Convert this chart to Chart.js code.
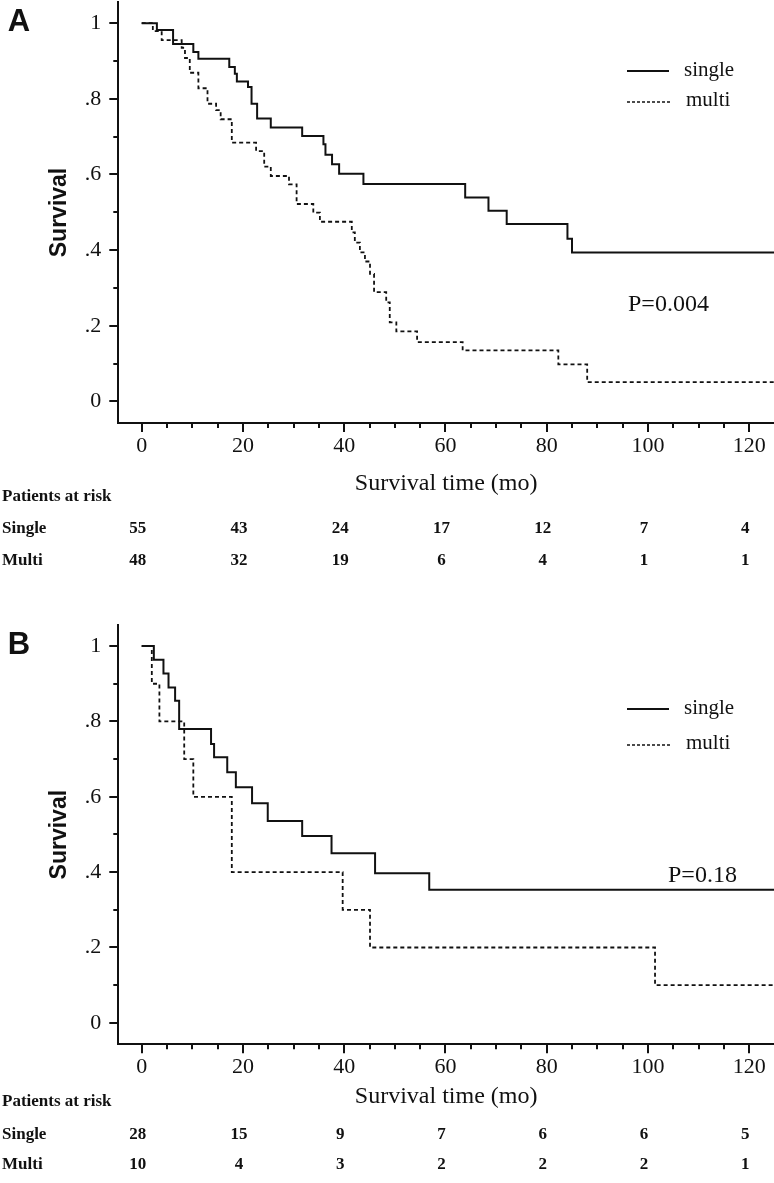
<!DOCTYPE html>
<html>
<head>
<meta charset="utf-8">
<script src="https://cdn.jsdelivr.net/npm/chart.js@4.4.1/dist/chart.umd.min.js"></script>
<style>
  html, body { margin: 0; padding: 0; background: #fff; }
  body { width: 774px; height: 1183px; position: relative; overflow: hidden;
         font-family: "Liberation Serif", "Times New Roman", serif; color: #111; }
  canvas { position: absolute; left: 0; }
  .t { position: absolute; white-space: nowrap; line-height: 1; }
  .c { transform: translate(-50%, -50%); }
  .l { transform: translateY(-50%); }
  .letter { font-family: "Liberation Sans", Arial, sans-serif; font-weight: bold; font-size: 31px; }
  .risk { font-weight: bold; font-size: 17px; }
  .leg { font-size: 21px; }
  .pv { font-size: 24px; }
  svg.sw { position: absolute; }
</style>
</head>
<body>
<canvas id="cA" width="774" height="510" style="top:0"></canvas>
<canvas id="cB" width="774" height="500" style="top:620px"></canvas>
<script>
// shared axis values
const riskTimes = [0, 20, 40, 60, 80, 100, 120];
const xTicks = [0, 5, 10, 15, 20, 25, 30, 35, 40, 45, 50, 55, 60, 65, 70, 75, 80, 85, 90, 95, 100, 105, 110, 115, 120];
const yTicks = [0, 0.1, 0.2, 0.3, 0.4, 0.5, 0.6, 0.7, 0.8, 0.9, 1];

// panel A
const aSingleTime = [0, 3.0, 6.2, 10.2, 11.2, 17.3, 18.4, 18.8, 21.0, 21.7, 22.8, 25.5, 31.7, 35.9, 36.3, 37.6, 39.0, 43.8, 63.9, 68.5, 72.1, 84.1, 85.0, 125];
const aSingleSurv = [1, 0.982, 0.945, 0.924, 0.906, 0.884, 0.866, 0.846, 0.831, 0.787, 0.748, 0.724, 0.702, 0.680, 0.652, 0.627, 0.602, 0.575, 0.539, 0.504, 0.469, 0.430, 0.394, 0.394];
const aMultiTime = [0, 2.2, 3.95, 7.9, 8.55, 9.5, 11.2, 13.0, 14.7, 15.6, 17.8, 22.6, 24.2, 25.5, 29.1, 30.6, 33.9, 35.2, 41.5, 42.1, 43.1, 44.1, 45.1, 45.9, 48.3, 49.0, 50.3, 54.4, 63.4, 82.3, 88.0, 125];
const aMultiSurv = [1, 0.979, 0.955, 0.935, 0.908, 0.869, 0.828, 0.787, 0.770, 0.746, 0.684, 0.662, 0.621, 0.596, 0.574, 0.522, 0.499, 0.475, 0.447, 0.420, 0.394, 0.370, 0.337, 0.289, 0.262, 0.209, 0.185, 0.157, 0.135, 0.098, 0.051, 0.051];
const aRiskSingle = [55, 43, 24, 17, 12, 7, 4];
const aRiskMulti = [48, 32, 19, 6, 4, 1, 1];

// panel B
const bSingleTime = [0, 2.4, 4.3, 5.3, 6.6, 7.4, 13.7, 14.3, 16.9, 18.6, 21.8, 24.9, 31.7, 37.5, 46.1, 56.8, 125];
const bSingleSurv = [1, 0.964, 0.927, 0.890, 0.855, 0.780, 0.740, 0.705, 0.665, 0.625, 0.583, 0.536, 0.496, 0.450, 0.397, 0.353, 0.353];
const bMultiTime = [0, 2.0, 3.5, 8.4, 10.2, 17.8, 39.7, 45.1, 101.4, 125];
const bMultiSurv = [1, 0.9, 0.8, 0.7, 0.6, 0.4, 0.3, 0.2, 0.1, 0.1];
const bRiskSingle = [28, 15, 9, 7, 6, 6, 5];
const bRiskMulti = [10, 4, 3, 2, 2, 2, 1];

const SERIF = '"Liberation Serif", "Times New Roman", serif';
const SANS_N = '"Liberation Sans Narrow", "Arial Narrow", "Liberation Sans", sans-serif';
const INK = '#111';

const pts = (t, s) => t.map((v, i) => ({ x: v, y: s[i] }));

// tick marks: long on labelled values, short in between
const tickMarks = {
  id: 'tickMarks',
  afterDraw(chart) {
    const { ctx, scales: { x, y } } = chart;
    ctx.save();
    ctx.strokeStyle = INK;
    ctx.lineWidth = 2;
    ctx.beginPath();
    xTicks.forEach(v => {
      const px = Math.round(x.getPixelForValue(v));
      const len = v % 20 === 0 ? 9 : 5;
      ctx.moveTo(px, x.top);
      ctx.lineTo(px, x.top + len);
    });
    yTicks.forEach(v => {
      const py = Math.round(y.getPixelForValue(v));
      const len = Math.round(v * 10) % 2 === 0 ? 9 : 5;
      ctx.moveTo(y.right - len, py);
      ctx.lineTo(y.right, py);
    });
    ctx.stroke();
    ctx.restore();
  }
};

function makePanel(id, o) {
  return new Chart(document.getElementById(id), {
    type: 'line',
    data: {
      datasets: [
        { data: pts(o.sTime, o.sSurv), borderColor: INK, borderWidth: 2, stepped: true, pointRadius: 0, fill: false },
        { data: pts(o.mTime, o.mSurv), borderColor: INK, borderWidth: 1.8, borderDash: [4, 3], stepped: true, pointRadius: 0, fill: false }
      ]
    },
    options: {
      responsive: false,
      animation: false,
      devicePixelRatio: 1,
      layout: { padding: { top: o.areaTop, left: 0, right: 0, bottom: 0 } },
      plugins: { legend: { display: false }, tooltip: { enabled: false } },
      scales: {
        x: {
          type: 'linear', min: -4.62, max: 124.9,
          afterBuildTicks: s => { s.ticks = xTicks.map(v => ({ value: v })); },
          ticks: { autoSkip: false, maxRotation: 0, padding: 10, color: INK,
                   font: { family: SERIF, size: 22 },
                   callback: v => (v % 20 === 0 ? String(v) : '') },
          grid: { display: false, drawTicks: false },
          border: { display: true, color: INK, width: 2 },
          title: { display: true, text: 'Survival time (mo)', color: INK,
                   font: { family: SERIF, size: 24 }, padding: { top: 0, bottom: o.titlePad } },
          afterFit: s => { s.height = o.xHeight; s.paddingLeft = 0; s.paddingRight = 0; }
        },
        y: {
          type: 'linear', min: -0.057, max: 1.056,
          afterBuildTicks: s => { s.ticks = yTicks.map(v => ({ value: v })); },
          ticks: { autoSkip: false, padding: 17, color: INK,
                   font: { family: SERIF, size: 22 },
                   callback: v => {
                     const k = Math.round(v * 10);
                     if (k % 2) return '';
                     return k === 10 ? '1' : k === 0 ? '0' : '.' + k;
                   } },
          grid: { display: false, drawTicks: false },
          border: { display: true, color: INK, width: 2 },
          title: { display: true, text: 'Survival', color: INK,
                   font: { family: SANS_N, size: 23, weight: 'bold' }, padding: { top: 46, bottom: 0 } },
          afterFit: s => { s.width = 118.3; s.paddingTop = 0; s.paddingBottom = 0; }
        }
      }
    },
    plugins: [tickMarks]
  });
}

function addText(cls, txt, left, top) {
  const d = document.createElement('div');
  d.className = 't ' + cls;
  d.textContent = txt;
  d.style.left = left + 'px';
  d.style.top = top + 'px';
  document.body.appendChild(d);
}

function addSample(x1, x2, y, dashed) {
  const ns = 'http://www.w3.org/2000/svg';
  const svg = document.createElementNS(ns, 'svg');
  svg.setAttribute('class', 'sw');
  svg.setAttribute('width', x2 - x1);
  svg.setAttribute('height', 6);
  svg.style.left = x1 + 'px';
  svg.style.top = (y - 3) + 'px';
  const ln = document.createElementNS(ns, 'line');
  ln.setAttribute('x1', 0); ln.setAttribute('x2', x2 - x1);
  ln.setAttribute('y1', 3); ln.setAttribute('y2', 3);
  ln.setAttribute('stroke', INK);
  ln.setAttribute('stroke-width', dashed ? 1.5 : 2);
  if (dashed) ln.setAttribute('stroke-dasharray', '3 2');
  svg.appendChild(ln);
  document.body.appendChild(svg);
}

function decorate(chart, o) {
  const x = chart.scales.x;
  addText('letter c', o.letter, 19, o.letterY);
  addText('risk l', 'Patients at risk', 2, o.riskY[0]);
  addText('risk l', 'Single', 2, o.riskY[1]);
  addText('risk l', 'Multi', 2, o.riskY[2]);
  riskTimes.forEach((t, i) => {
    const px = x.getPixelForValue(t) - 4;
    addText('risk c', String(o.rSingle[i]), px, o.riskY[1]);
    addText('risk c', String(o.rMulti[i]), px, o.riskY[2]);
  });
  addSample(627, 669, o.legY[0], false);
  addSample(627, 671, o.legY[1], true);
  addText('leg l', 'single', 684, o.legY[0] - 2);
  addText('leg l', 'multi', 686, o.legY[1] - 3);
  addText('pv l', o.p, o.pX, o.pY);
}

const chartA = makePanel('cA', {
  sTime: aSingleTime, sSurv: aSingleSurv, mTime: aMultiTime, mSurv: aMultiSurv,
  areaTop: 2, xHeight: 510 - 423, titlePad: 12
});
decorate(chartA, {
  letter: 'A', letterY: 20, riskY: [495, 527, 559], rSingle: aRiskSingle, rMulti: aRiskMulti,
  legY: [71, 102], p: 'P=0.004', pX: 628, pY: 303
});

const chartB = makePanel('cB', {
  sTime: bSingleTime, sSurv: bSingleSurv, mTime: bMultiTime, mSurv: bMultiSurv,
  areaTop: 5, xHeight: 500 - 424.3, titlePad: 9
});
decorate(chartB, {
  letter: 'B', letterY: 643, riskY: [1100, 1133, 1163], rSingle: bRiskSingle, rMulti: bRiskMulti,
  legY: [709, 745], p: 'P=0.18', pX: 668, pY: 874
});
</script>
</body>
</html>
